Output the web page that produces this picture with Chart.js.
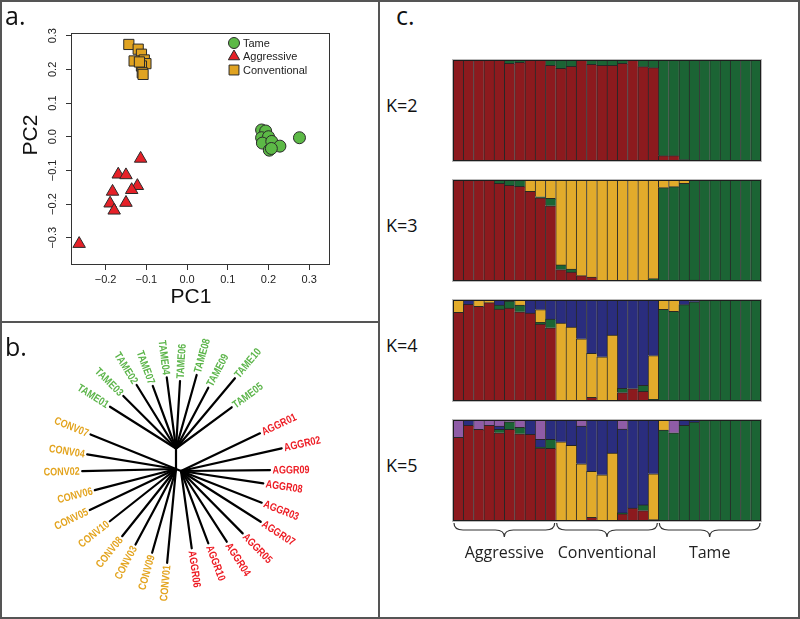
<!DOCTYPE html>
<html>
<head>
<meta charset="utf-8">
<script src="https://cdn.jsdelivr.net/npm/chart.js@4.4.0/dist/chart.umd.min.js"></script>
<style>
  body { margin: 0; background: #fff; }
  #fig { position: relative; width: 800px; height: 619px; overflow: hidden; font-family: 'Open Sans', 'Liberation Sans', sans-serif; }
  #frame { position: absolute; left: 0; top: 0; width: 800px; height: 619px; box-sizing: border-box; border: 2px solid #555; }
  .rule { position: absolute; background: #555; }
  canvas { position: absolute; }
  .lbl { position: absolute; color: #111; line-height: 1; white-space: nowrap; }
</style>
</head>
<body>
<div id="fig">
  <div id="frame"></div>
  <div class="rule" style="left:378px;top:0;width:2px;height:619px"></div>
  <div class="rule" style="left:0;top:321px;width:379px;height:2px"></div>

  <canvas id="pca" width="378" height="321" style="left:0;top:0"></canvas>
  <canvas id="tree" width="378" height="296" style="left:0;top:323px"></canvas>
  <canvas id="k2" width="310" height="103" style="left:452px;top:59px"></canvas>
  <canvas id="k3" width="310" height="103" style="left:452px;top:179px"></canvas>
  <canvas id="k4" width="310" height="103" style="left:452px;top:299px"></canvas>
  <canvas id="k5" width="310" height="150" style="left:452px;top:419px"></canvas>

  <div class="lbl" style="left:5px;top:3px;font-size:25px">a.</div>
  <div class="lbl" style="left:5px;top:334px;font-size:25px">b.</div>
  <div class="lbl" style="left:396px;top:3px;font-size:25px">c.</div>
  <div class="lbl" style="left:386px;top:96px;font-size:18px">K=2</div>
  <div class="lbl" style="left:386px;top:216px;font-size:18px">K=3</div>
  <div class="lbl" style="left:386px;top:336px;font-size:18px">K=4</div>
  <div class="lbl" style="left:386px;top:456px;font-size:18px">K=5</div>
</div>

<script>
  // ---- a. PCA ----
  const pcTicksX = [-0.2, -0.1, 0.0, 0.1, 0.2, 0.3];
  const pcTicksY = [-0.3, -0.2, -0.1, 0.0, 0.1, 0.2, 0.3];

  const tamePC1 = [0.183, 0.193, 0.183, 0.200, 0.185, 0.208, 0.228, 0.202, 0.207, 0.276];
  const tamePC2 = [0.020, 0.017, -0.003, 0.000, -0.019, -0.014, -0.028, -0.040, -0.035, -0.003];
  const aggrPC1 = [-0.265, -0.114, -0.169, -0.150, -0.122, -0.136, -0.183, -0.189, -0.179, -0.150];
  const aggrPC2 = [-0.318, -0.065, -0.112, -0.114, -0.146, -0.158, -0.163, -0.198, -0.219, -0.196];
  const convPC1 = [-0.143, -0.120, -0.112, -0.130, -0.105, -0.101, -0.112, -0.110, -0.108, -0.117];
  const convPC2 = [0.274, 0.260, 0.245, 0.225, 0.228, 0.217, 0.210, 0.190, 0.185, 0.222];

  // ---- b. tree (angle in degrees, branch length in px-units from the clade node) ----
  const stemNames  = ['tame', 'conv', 'aggr'];
  const stemAngle  = [90, 0, -22];
  const stemLength = [20.5, 0, 5.4];

  const tameNames  = ['TAME01','TAME03','TAME02','TAME07','TAME04','TAME06','TAME08','TAME09','TAME10','TAME05'];
  const tameAngle  = [147.7, 135.1, 121.8, 110.4, 97.4, 86.6, 74.3, 62.0, 50.0, 36.5];
  const tameLength = [78.1, 74.4, 74.7, 66.7, 71.8, 67.6, 76.4, 68.8, 91.7, 69.3];

  const convNames  = ['CONV07','CONV04','CONV02','CONV06','CONV05','CONV10','CONV08','CONV03','CONV09','CONV01'];
  const convAngle  = [158.0, 170.7, 181.3, 194.6, 205.5, 218.3, 231.3, 241.8, 254.1, 264.6];
  const convLength = [92.2, 90.0, 93.8, 83.9, 95.5, 84.3, 86.1, 85.7, 87.1, 94.2];

  const aggrNames  = ['AGGR06','AGGR10','AGGR04','AGGR05','AGGR07','AGGR03','AGGR08','AGGR09','AGGR02','AGGR01'];
  const aggrAngle  = [277.9, 290.7, 302.9, 314.7, 327.5, 338.6, 351.5, 0.6, 12.7, 25.5];
  const aggrLength = [78.0, 77.3, 84.2, 87.7, 94.5, 86.7, 83.2, 89.0, 103.2, 87.5];

  // ---- c. admixture ----
  const groups = ['Aggressive', 'Conventional', 'Tame'];
  const individuals = [];
  groups.forEach(function(g) { for (let i = 1; i <= 10; i++) individuals.push(g + ' ' + i); });

  const k2Red   = [1,1,1,1,1,0.967,0.977,1,1,0.947, 0.917,0.937,1,0.957,0.947,0.947,0.967,1,0.934,0.924, 0.053,0.053,0.013,0,0,0,0,0,0,0];
  const k2Green = [0,0,0,0,0,0.033,0.023,0,0,0.053, 0.083,0.063,0,0.043,0.053,0.053,0.033,0,0.066,0.076, 0.947,0.947,0.987,1,1,1,1,1,1,1];

  const k3Red    = [1,1,1,1,0.967,0.947,0.937,0.887,0.824,0.745, 0.113,0.089,0.053,0.04,0,0,0,0,0.007,0, 0,0,0,0.01,0,0,0,0,0,0];
  const k3Green  = [0,0,0,0,0.033,0.053,0.063,0,0.01,0.073, 0.046,0.03,0,0,0,0,0,0,0,0.023, 0.924,0.934,0.967,0.99,1,1,1,1,1,1];
  const k3Yellow = [0,0,0,0,0,0,0,0.113,0.166,0.182, 0.841,0.881,0.947,0.96,1,1,1,1,0.993,0.977, 0.076,0.066,0.033,0,0,0,0,0,0,0];

  const k4Red    = [0.877,0.957,0.937,0.974,0.91,0.92,0.884,0.871,0.762,0.725, 0,0,0,0.036,0,0,0.083,0.123,0.096,0, 0,0,0,0,0,0,0,0,0,0];
  const k4Green  = [0,0,0,0,0.04,0.07,0.066,0,0.017,0.086, 0,0,0,0,0,0,0.043,0,0.06,0.016, 0.907,0.887,0.954,0.983,1,1,1,1,1,1];
  const k4Yellow = [0.123,0,0.063,0.026,0,0,0.05,0,0.126,0, 0.772,0.732,0.616,0.437,0.437,0.652,0,0,0,0.434, 0.093,0.113,0,0,0,0,0,0,0,0];
  const k4Blue   = [0,0.043,0,0,0.05,0.01,0,0.129,0.095,0.189, 0.228,0.268,0.384,0.527,0.563,0.348,0.874,0.877,0.844,0.55, 0,0,0.046,0.017,0,0,0,0,0,0];

  const k5Red    = [0.828,0.947,0.907,0.947,0.874,0.907,0.864,0.858,0.722,0.719, 0,0,0,0.036,0,0,0.07,0.129,0.103,0, 0,0,0,0,0,0,0,0,0,0];
  const k5Green  = [0,0,0,0,0.033,0.076,0.063,0,0.01,0.089, 0,0,0,0,0,0,0.01,0,0.056,0.013, 0.901,0.874,0.947,0.98,1,1,1,1,1,1];
  const k5Yellow = [0,0,0,0,0,0,0,0,0,0, 0.785,0.748,0.566,0.457,0.457,0.672,0,0,0,0.454, 0.099,0,0,0,0,0,0,0,0,0];
  const k5Blue   = [0,0.053,0,0,0.033,0,0,0.142,0.076,0.192, 0.215,0.252,0.374,0.507,0.543,0.328,0.83,0.871,0.841,0.533, 0,0,0.053,0.02,0,0,0,0,0,0];
  const k5Purple = [0.172,0,0.093,0.053,0.06,0.017,0.073,0,0.192,0, 0,0,0.06,0,0,0,0.09,0,0,0, 0,0.126,0,0,0,0,0,0,0,0];

  const RED = '#8c1a1e', GREEN = '#1b6434', YELLOW = '#e2ab2b', BLUE = '#2a2d7e', PURPLE = '#8f5ca6';

  Chart.defaults.font.family = "'Liberation Sans', Arial, sans-serif";
  Chart.defaults.animation = false;

  function fmt(v) {
    return v.toFixed(1).replace('-', '\u2212');
  }
  function pts(xs, ys) {
    return xs.map(function(x, i) { return { x: x, y: ys[i] }; });
  }

  // box, axis titles and the legend inside the plot, like R draws it
  const pcaDecor = {
    id: 'pcaDecor',
    afterDraw(chart) {
      const ctx = chart.ctx, a = chart.chartArea;
      ctx.save();
      ctx.strokeStyle = '#333';
      ctx.lineWidth = 1;
      ctx.strokeRect(a.left + 0.5, a.top + 0.5, a.right - a.left - 1, a.bottom - a.top - 1);

      ctx.fillStyle = '#111';
      ctx.font = "21px 'Liberation Sans', Arial, sans-serif";
      ctx.textAlign = 'center';
      ctx.textBaseline = 'middle';
      ctx.fillText('PC1', 191, 297);
      ctx.save();
      ctx.translate(31, 135);
      ctx.rotate(-Math.PI / 2);
      ctx.fillText('PC2', 0, 0);
      ctx.restore();

      ctx.font = "11px 'Liberation Sans', Arial, sans-serif";
      ctx.textAlign = 'left';
      chart.data.datasets.forEach(function(ds, i) {
        const y = 43 + i * 13.5;
        ctx.fillStyle = ds.backgroundColor;
        ctx.strokeStyle = ds.borderColor;
        ctx.lineWidth = 1;
        Chart.helpers.drawPoint(ctx, { pointStyle: ds.pointStyle, radius: ds.legendRadius, borderWidth: 1, rotation: 0 }, 234, y);
        ctx.fillStyle = '#222';
        ctx.fillText(ds.label, 243, y + 0.5);
      });
      ctx.restore();
    }
  };

  new Chart(document.getElementById('pca'), {
    type: 'scatter',
    data: {
      datasets: [
        { label: 'Tame', data: pts(tamePC1, tamePC2), pointStyle: 'circle', pointRadius: 6, legendRadius: 5.5,
          backgroundColor: '#5cb946', borderColor: '#2a2a2a', borderWidth: 1 },
        { label: 'Aggressive', data: pts(aggrPC1, aggrPC2), pointStyle: 'triangle', pointRadius: 7.2, legendRadius: 6.5,
          backgroundColor: '#e62128', borderColor: '#2a2a2a', borderWidth: 1 },
        { label: 'Conventional', data: pts(convPC1, convPC2), pointStyle: 'rect', pointRadius: 7.2, legendRadius: 7,
          backgroundColor: '#e0a321', borderColor: '#2a2a2a', borderWidth: 1 }
      ]
    },
    options: {
      responsive: false,
      layout: { padding: { left: 0, top: 33, right: 48, bottom: 0 } },
      plugins: { legend: { display: false }, tooltip: { enabled: false } },
      scales: {
        x: {
          type: 'linear', position: 'bottom', min: -0.285, max: 0.351,
          afterFit: function(s) { s.height = 56; },
          afterBuildTicks: function(s) { s.ticks = pcTicksX.map(function(v) { return { value: v }; }); },
          grid: { drawOnChartArea: false, drawTicks: true, tickLength: 5, color: '#333' },
          border: { display: false },
          ticks: { padding: 3, color: '#222', font: { size: 11 }, callback: function(v) { return fmt(v); } }
        },
        y: {
          type: 'linear', position: 'left', min: -0.381, max: 0.308,
          afterFit: function(s) { s.width = 71; },
          afterBuildTicks: function(s) { s.ticks = pcTicksY.map(function(v) { return { value: v }; }); },
          grid: { drawOnChartArea: false, drawTicks: true, tickLength: 5, color: '#333' },
          border: { display: false },
          ticks: { padding: 2, minRotation: 90, maxRotation: 90, crossAlign: 'center', color: '#222', font: { size: 11 },
                   callback: function(v) { return fmt(v); } }
        }
      }
    },
    plugins: [pcaDecor]
  });

  // ---- b. unrooted tree ----
  const clades = [
    { names: tameNames, angle: tameAngle, length: tameLength, color: '#5db54b' },
    { names: convNames, angle: convAngle, length: convLength, color: '#e3a41f' },
    { names: aggrNames, angle: aggrAngle, length: aggrLength, color: '#ed1c24' }
  ];
  const rad = Math.PI / 180;
  const treeSets = [];
  const leaves = [];
  clades.forEach(function(c, ci) {
    const nx = stemLength[ci] * Math.cos(stemAngle[ci] * rad);
    const ny = stemLength[ci] * Math.sin(stemAngle[ci] * rad);
    if (stemLength[ci] > 0) {
      treeSets.push({ label: stemNames[ci], data: [{ x: 0, y: 0 }, { x: nx, y: ny }] });
    }
    c.names.forEach(function(n, i) {
      const tx = nx + c.length[i] * Math.cos(c.angle[i] * rad);
      const ty = ny + c.length[i] * Math.sin(c.angle[i] * rad);
      treeSets.push({ label: n, data: [{ x: nx, y: ny }, { x: tx, y: ty }] });
      leaves.push({ name: n, x: tx, y: ty, angle: c.angle[i], color: c.color });
    });
  });
  treeSets.forEach(function(ds) {
    ds.showLine = true;
    ds.borderColor = '#000';
    ds.borderWidth = 2.2;
    ds.pointRadius = 0;
    ds.borderCapStyle = 'round';
  });

  // tip labels along the branch, narrow bold like the original
  const treeLabels = {
    id: 'treeLabels',
    afterDatasetsDraw(chart) {
      const ctx = chart.ctx, sx = chart.scales.x, sy = chart.scales.y;
      ctx.save();
      ctx.font = "bold 11px 'Liberation Sans', Arial, sans-serif";
      ctx.textBaseline = 'middle';
      leaves.forEach(function(l) {
        const px = sx.getPixelForValue(l.x), py = sy.getPixelForValue(l.y);
        const th = l.angle * rad;
        ctx.save();
        ctx.translate(px, py);
        ctx.fillStyle = l.color;
        if (Math.cos(th) >= 0) {
          ctx.rotate(-th);
          ctx.scale(0.82, 1);
          ctx.textAlign = 'left';
          ctx.fillText(l.name, 3, 0.5);
        } else {
          ctx.rotate(Math.PI - th);
          ctx.scale(0.82, 1);
          ctx.textAlign = 'right';
          ctx.fillText(l.name, -3, 0.5);
        }
        ctx.restore();
      });
      ctx.restore();
    }
  };

  new Chart(document.getElementById('tree'), {
    type: 'scatter',
    data: { datasets: treeSets },
    options: {
      responsive: false,
      layout: { padding: 0 },
      plugins: { legend: { display: false }, tooltip: { enabled: false } },
      scales: {
        x: { type: 'linear', display: false, min: -176, max: 202 },
        y: { type: 'linear', display: false, min: -150, max: 146 }
      }
    },
    plugins: [treeLabels]
  });

  // ---- c. admixture bar plots ----
  const barFrame = {
    id: 'barFrame',
    afterDatasetsDraw(chart) {
      const ctx = chart.ctx, a = chart.chartArea;
      ctx.save();
      ctx.strokeStyle = '#bbb';
      ctx.lineWidth = 1;
      ctx.strokeRect(a.left - 0.5, a.top - 0.5, a.right - a.left + 1, a.bottom - a.top + 1);
      ctx.strokeStyle = '#1d1d1d';
      ctx.strokeRect(a.left + 0.5, a.top + 0.5, a.right - a.left - 1, a.bottom - a.top - 1);
      ctx.restore();
    }
  };

  const groupBraces = {
    id: 'groupBraces',
    afterDraw(chart) {
      const ctx = chart.ctx, sx = chart.scales.x, a = chart.chartArea;
      const y0 = a.bottom + 2, h = 14, q = 9;
      ctx.save();
      ctx.strokeStyle = '#333';
      ctx.lineWidth = 1.2;
      ctx.fillStyle = '#222';
      ctx.font = "16px 'Open Sans', sans-serif";
      ctx.textAlign = 'center';
      ctx.textBaseline = 'middle';
      groups.forEach(function(g, gi) {
        const x0 = sx.getPixelForValue(gi * 10 - 0.5) + 1;
        const x1 = sx.getPixelForValue(gi * 10 + 9.5) - 1;
        const xm = (x0 + x1) / 2, ym = y0 + h / 2;
        ctx.beginPath();
        ctx.moveTo(x0, y0);
        ctx.quadraticCurveTo(x0, ym, x0 + q, ym);
        ctx.lineTo(xm - q, ym);
        ctx.quadraticCurveTo(xm, ym, xm, y0 + h);
        ctx.quadraticCurveTo(xm, ym, xm + q, ym);
        ctx.lineTo(x1 - q, ym);
        ctx.quadraticCurveTo(x1, ym, x1, y0);
        ctx.stroke();
        ctx.fillText(g, xm, y0 + h + 16);
      });
      ctx.restore();
    }
  };

  function admixChart(id, series, bottomPad, extra) {
    return new Chart(document.getElementById(id), {
      type: 'bar',
      data: {
        labels: individuals,
        datasets: series.map(function(s) {
          return {
            label: s[0], data: s[1], backgroundColor: s[2],
            borderColor: 'rgba(20,20,20,0.9)',
            borderWidth: { top: 1, left: 1, right: 0, bottom: 0 },
            borderSkipped: false,
            categoryPercentage: 1, barPercentage: 1
          };
        })
      },
      options: {
        responsive: false,
        layout: { padding: { left: 1, right: 1, top: 1, bottom: bottomPad } },
        plugins: { legend: { display: false }, tooltip: { enabled: false } },
        scales: {
          x: { stacked: true, display: false },
          y: { stacked: true, display: false, min: 0, max: 1 }
        }
      },
      plugins: [barFrame].concat(extra || [])
    });
  }

  admixChart('k2', [['cluster 1', k2Red, RED], ['cluster 2', k2Green, GREEN]], 1);
  admixChart('k3', [['cluster 1', k3Red, RED], ['cluster 2', k3Green, GREEN], ['cluster 3', k3Yellow, YELLOW]], 1);
  admixChart('k4', [['cluster 1', k4Red, RED], ['cluster 2', k4Green, GREEN], ['cluster 3', k4Yellow, YELLOW],
                    ['cluster 4', k4Blue, BLUE]], 1);
  admixChart('k5', [['cluster 1', k5Red, RED], ['cluster 2', k5Green, GREEN], ['cluster 3', k5Yellow, YELLOW],
                    ['cluster 4', k5Blue, BLUE], ['cluster 5', k5Purple, PURPLE]], 48, [groupBraces]);
</script>
</body>
</html>
